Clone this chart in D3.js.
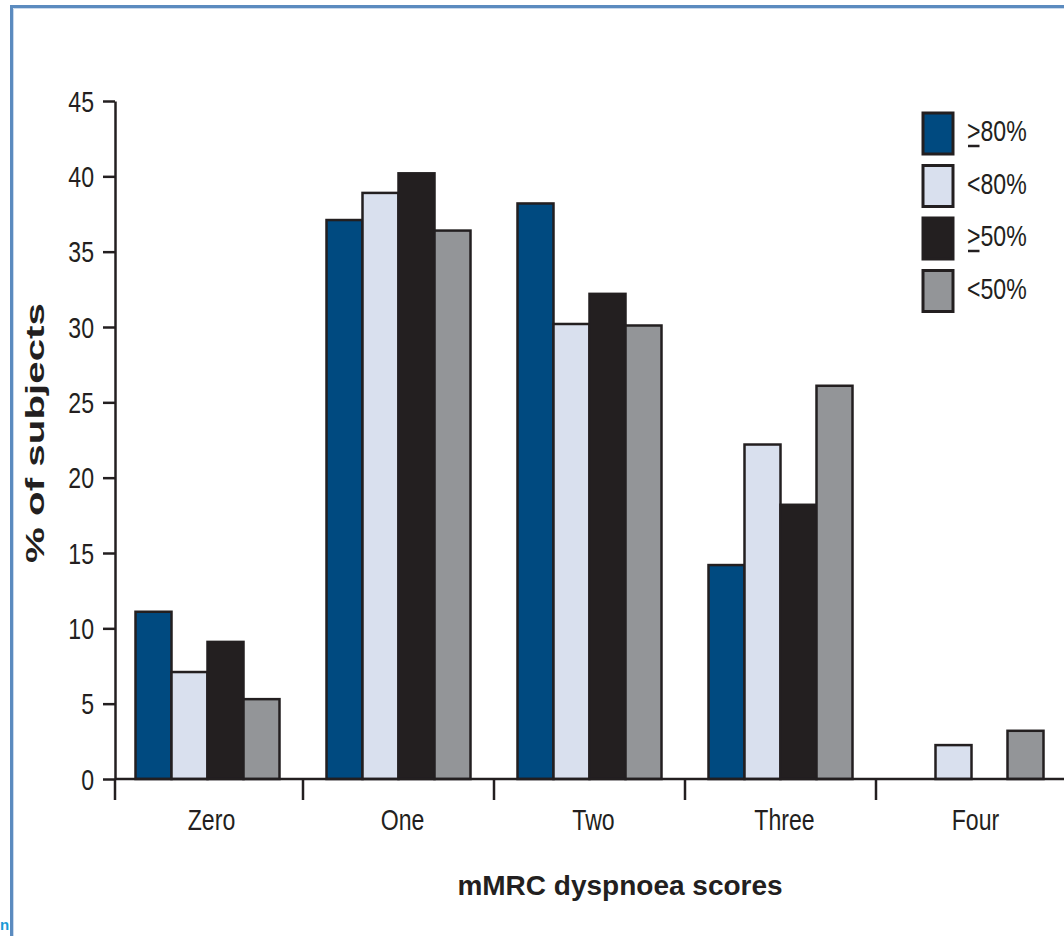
<!DOCTYPE html>
<html>
<head>
<meta charset="utf-8">
<script src="https://cdn.jsdelivr.net/npm/d3@7"></script>
<style>
  html, body { margin: 0; padding: 0; background: #fff; }
  svg { display: block; }
</style>
</head>
<body>
<svg id="chart" width="1064" height="936"></svg>
<script>
const categories = ["Zero", "One", "Two", "Three", "Four"];
const seriesNames = [">80%", "<80%", ">50%", "<50%"];
const seriesUnderline = [true, false, true, false];
const seriesColors = ["#004a80", "#d9e0ee", "#231f20", "#939598"];
const ge80 = [11.1, 37.1, 38.2, 14.2, 0];
const lt80 = [7.1, 38.9, 30.2, 22.2, 2.25];
const ge50 = [9.1, 40.2, 32.2, 18.2, 0];
const lt50 = [5.3, 36.4, 30.1, 26.1, 3.2];
const seriesValues = [ge80, lt80, ge50, lt50];
const yTicks = [0, 5, 10, 15, 20, 25, 30, 35, 40, 45];

const svg = d3.select("#chart");
const font = "'Liberation Sans', Arial, Helvetica, sans-serif";
const K = 0.77;

// condense regular text horizontally (narrow face look)
function condense(sel, k) {
  sel.each(function () {
    const w = this.getComputedTextLength();
    d3.select(this).attr("textLength", w * k).attr("lengthAdjust", "spacingAndGlyphs");
  });
}

// frame
svg.append("path")
  .attr("d", "M11.5,940 L11.5,6.5 L1070,6.5")
  .attr("fill", "none").attr("stroke", "#5b8bbf").attr("stroke-width", 3);
svg.append("path")
  .attr("d", "M13.5,940 L13.5,8.5 L1070,8.5")
  .attr("fill", "none").attr("stroke", "#c9d9ec").attr("stroke-width", 1);

const x0 = 115, yBottom = 779, yTop = 101;
const y = d3.scaleLinear().domain([0, 45]).range([yBottom, yTop]);
const xb = d3.scaleBand().domain(categories).range([112, 1067]).paddingInner(0);
const xs = d3.scaleBand().domain(d3.range(seriesNames.length)).range([0, 144]);

// bars
const groups = svg.append("g").selectAll("g").data(categories).join("g")
  .attr("transform", d => `translate(${xb(d) + xb.bandwidth() / 2 - 72},0)`);
groups.selectAll("rect")
  .data((c, ci) => seriesValues.map((vals, si) => ({ si, v: vals[ci] })).filter(d => d.v > 0))
  .join("rect")
  .attr("x", d => xs(d.si))
  .attr("width", xs.bandwidth())
  .attr("y", d => y(d.v))
  .attr("height", d => y(0) - y(d.v))
  .attr("fill", d => seriesColors[d.si])
  .attr("stroke", "#231f20").attr("stroke-width", 2.5);

// y axis
const yAxis = svg.append("g").attr("transform", `translate(${x0},0)`)
  .call(d3.axisLeft(y).tickValues(yTicks).tickSize(12).tickSizeOuter(0).tickPadding(9));
yAxis.select(".domain").attr("stroke", "#231f20").attr("stroke-width", 2.5);
yAxis.selectAll(".tick line").attr("stroke", "#231f20").attr("stroke-width", 2.5);
yAxis.selectAll(".tick text").attr("font-family", font).attr("font-size", 30)
  .attr("fill", "#231f20").attr("dy", "0.34em").call(condense, K);

// x axis
const xAxisG = svg.append("g").attr("transform", `translate(0,${yBottom})`);
xAxisG.append("line").attr("x1", x0).attr("x2", 1070).attr("y1", 0).attr("y2", 0)
  .attr("stroke", "#231f20").attr("stroke-width", 2.5);
const boundaries = categories.map(c => xb(c)).concat([xb.range()[1]]);
xAxisG.selectAll("line.tk").data(boundaries).join("line").attr("class", "tk")
  .attr("x1", d => Math.max(d, x0)).attr("x2", d => Math.max(d, x0))
  .attr("y1", 0).attr("y2", 21)
  .attr("stroke", "#231f20").attr("stroke-width", 2.5);
xAxisG.selectAll("text").data(categories).join("text")
  .attr("x", d => xb(d) + xb.bandwidth() / 2 + 4)
  .attr("y", 51)
  .attr("text-anchor", "middle")
  .attr("font-family", font).attr("font-size", 30).attr("fill", "#231f20")
  .text(d => d).call(condense, K);

// axis titles
svg.append("text")
  .attr("x", 620).attr("y", 895).attr("text-anchor", "middle")
  .attr("font-family", font).attr("font-weight", "bold").attr("font-size", 28)
  .attr("fill", "#231f20").text("mMRC dyspnoea scores");
svg.append("text")
  .attr("transform", "translate(44,433) rotate(-90)")
  .attr("text-anchor", "middle")
  .attr("textLength", 260).attr("lengthAdjust", "spacingAndGlyphs")
  .attr("font-family", font).attr("font-weight", "bold").attr("font-size", 25)
  .attr("fill", "#231f20").text("% of subjects");

// legend
const legend = svg.append("g").attr("transform", "translate(922,112)");
const lg = legend.selectAll("g").data(seriesNames).join("g")
  .attr("transform", (d, i) => `translate(0,${i * 52.5})`);
lg.append("rect").attr("x", 1).attr("y", 1).attr("width", 30).attr("height", 41)
  .attr("fill", (d, i) => seriesColors[i]).attr("stroke", "#231f20").attr("stroke-width", 3);
const lt = lg.append("text").attr("x", 45).attr("y", 29)
  .attr("font-family", font).attr("font-size", 30).attr("fill", "#231f20")
  .text(d => d);
lt.call(condense, K);
// underline beneath the ">" sign for the "greater or equal" entries
lg.filter((d, i) => seriesUnderline[i]).each(function () {
  const g = d3.select(this);
  const t = g.select("text").node();
  const ext = t.getExtentOfChar(0);
  g.append("line")
    .attr("x1", ext.x + 1).attr("x2", ext.x + ext.width - 1)
    .attr("y1", 34).attr("y2", 34)
    .attr("stroke", "#231f20").attr("stroke-width", 2.5);
});

// edge fragment at lower left
svg.append("text").attr("x", 0).attr("y", 930)
  .attr("font-family", font).attr("font-weight", "bold").attr("font-size", 15)
  .attr("fill", "#1a9ad6").text("n");
</script>
</body>
</html>
